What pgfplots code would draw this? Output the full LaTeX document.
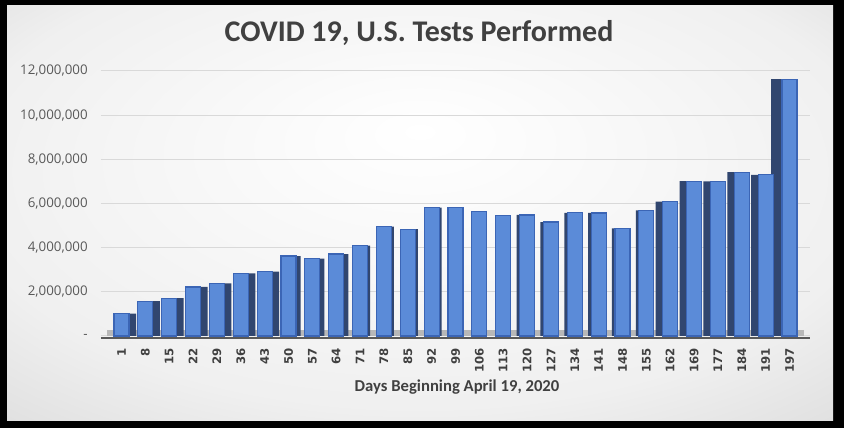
\documentclass[border=0pt]{standalone}
\usepackage{pgfplots}
\pgfplotsset{compat=1.18}
\usepackage{pgfplotstable}
\usepackage{fontspec}
\setmainfont{Carlito}
\newfontfamily\tickfont{Open Sans}
\newfontfamily\xfont{DejaVu Sans}

\definecolor{barfront}{HTML}{5B8BD8}
\definecolor{baredge}{HTML}{3B65B5}
\definecolor{barside}{HTML}{31466F}
\definecolor{txt}{HTML}{404040}
\definecolor{ticktxt}{HTML}{595959}
\definecolor{gridc}{HTML}{D9D9D9}
\definecolor{floorc}{HTML}{B8B8B8}

\pgfdeclareradialshading{bg}{\pgfpoint{0bp}{10bp}}{color(0bp)=(white); color(28bp)=(gray!12); color(50bp)=(gray!40)}

% weekly tests
\pgfplotstableread{
idx day tests
0 1 1010000
1 8 1580000
2 15 1710000
3 22 2220000
4 29 2380000
5 36 2840000
6 43 2920000
7 50 3620000
8 57 3500000
9 64 3710000
10 71 4090000
11 78 4950000
12 85 4840000
13 92 5810000
14 99 5810000
15 106 5640000
16 113 5460000
17 120 5480000
18 127 5160000
19 134 5580000
20 141 5570000
21 148 4870000
22 155 5690000
23 162 6080000
24 169 7010000
25 177 7000000
26 184 7420000
27 191 7300000
28 197 11620000
}\tests

\begin{document}
\begin{tikzpicture}[x=0.75pt,y=0.75pt]
\fill[black] (0,0) rectangle (844,428);
\shade[shading=bg] (7,7) rectangle (833,422);

\node[font=\bfseries\fontsize{22.5}{26}\selectfont,text=txt] at (419,395) {COVID 19, U.S. Tests Performed};
\node[font=\bfseries\fontsize{12.5}{15}\selectfont,text=txt] at (457,41) {Days Beginning April 19, 2020};

\begin{axis}[
  at={(75.75pt,69pt)}, anchor=south west,
  scale only axis, width=531.75pt, height=198.75pt,
  xmin=-0.86, xmax=28.86, ymin=0, ymax=12000000,
  clip=false,
  axis line style={draw=none}, major tick length=0pt,
  ytick={0,2000000,4000000,6000000,8000000,10000000,12000000},
  yticklabels={{-\hspace{7pt}},{2,000,000},{4,000,000},{6,000,000},{8,000,000},{10,000,000},{12,000,000}},
  scaled y ticks=false,
  ymajorgrids, grid style={gridc,line width=0.75pt},
  xtick={0,...,28},
  xticklabels from table={\tests}{day},
  tick label style={inner sep=0pt},
  x tick label style={rotate=90,anchor=east,font=\xfont\bfseries\fontsize{8.8}{10}\selectfont,text=txt},
  y tick label style={font=\tickfont\fontsize{10}{12}\selectfont,text=ticktxt},
  xticklabel shift=9pt, yticklabel shift=9.75pt,
  ybar, bar width=11.25pt,
]
\fill[floorc] (axis cs:-0.6,0) rectangle (axis cs:28.6,250000);
\draw[ticktxt,line width=1.5pt] ([yshift=-1.5pt]axis cs:-0.86,0) -- ([yshift=-1.5pt]axis cs:28.86,0);
% dark side faces
\addplot[fill=barside,draw=none,bar shift=5.25pt,restrict x to domain=0:6] table[x=idx,y=tests]{\tests};
\addplot[fill=barside,draw=none,bar shift=3.4pt,restrict x to domain=7:9] table[x=idx,y=tests]{\tests};
\addplot[fill=barside,draw=none,bar shift=1.9pt,restrict x to domain=10:13] table[x=idx,y=tests]{\tests};
\addplot[fill=barside,draw=none,bar shift=-2.25pt,restrict x to domain=17:22] table[x=idx,y=tests]{\tests};
\addplot[fill=barside,draw=none,bar shift=-5.25pt,restrict x to domain=23:27] table[x=idx,y=tests]{\tests};
\addplot[fill=barside,draw=none,bar shift=-8.25pt,restrict x to domain=28:28] table[x=idx,y=tests]{\tests};
% front faces
\addplot[fill=barfront,draw=baredge,line width=0.9pt,bar shift=0pt] table[x=idx,y=tests]{\tests};
\end{axis}
\end{tikzpicture}
\end{document}
